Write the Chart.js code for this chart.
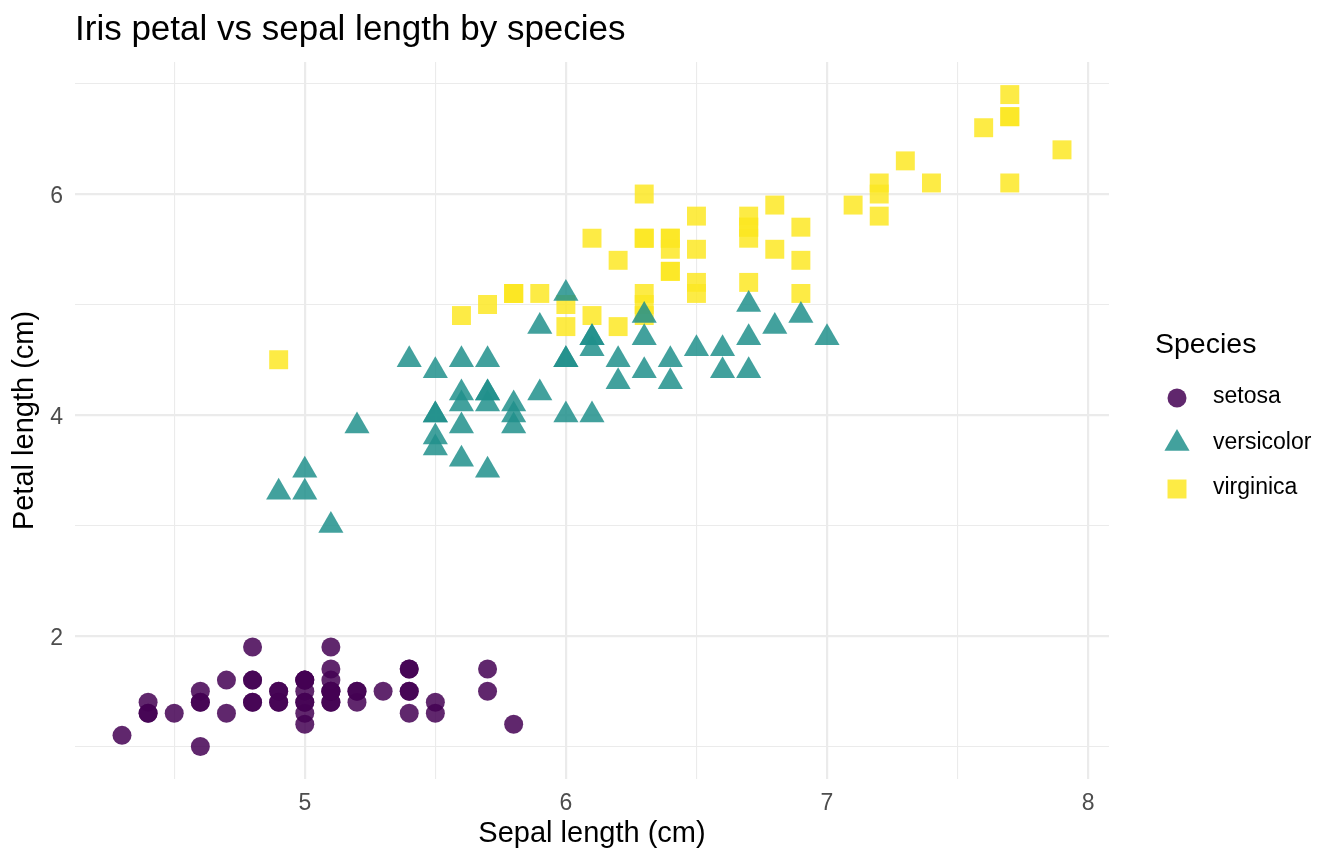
<!DOCTYPE html>
<html>
<head>
<meta charset="utf-8">
<script src="https://cdn.jsdelivr.net/npm/chart.js@4/dist/chart.umd.min.js"></script>
<style>
  html, body { margin: 0; padding: 0; background: #fff; }
  #wrap { width: 1344px; height: 864px; }
</style>
</head>
<body>
<div id="wrap"><canvas id="chart" width="1344" height="864"></canvas></div>
<script>
// DATA (iris)
const species = ["setosa", "versicolor", "virginica"];

const setosaSepal = [5.1,4.9,4.7,4.6,5.0,5.4,4.6,5.0,4.4,4.9,5.4,4.8,4.8,4.3,5.8,5.7,5.4,5.1,5.7,5.1,5.4,5.1,4.6,5.1,4.8,5.0,5.0,5.2,5.2,4.7,4.8,5.4,5.2,5.5,4.9,5.0,5.5,4.9,4.4,5.1,5.0,4.5,4.4,5.0,5.1,4.8,5.1,4.6,5.3,5.0];
const setosaPetal = [1.4,1.4,1.3,1.5,1.4,1.7,1.4,1.5,1.4,1.5,1.5,1.6,1.4,1.1,1.2,1.5,1.3,1.4,1.7,1.5,1.7,1.5,1.0,1.7,1.9,1.6,1.6,1.5,1.4,1.6,1.6,1.5,1.5,1.4,1.5,1.2,1.3,1.4,1.3,1.5,1.3,1.3,1.3,1.6,1.9,1.4,1.6,1.4,1.5,1.4];

const versicolorSepal = [7.0,6.4,6.9,5.5,6.5,5.7,6.3,4.9,6.6,5.2,5.0,5.9,6.0,6.1,5.6,6.7,5.6,5.8,6.2,5.6,5.9,6.1,6.3,6.1,6.4,6.6,6.8,6.7,6.0,5.7,5.5,5.5,5.8,6.0,5.4,6.0,6.7,6.3,5.6,5.5,5.5,6.1,5.8,5.0,5.6,5.7,5.7,6.2,5.1,5.7];
const versicolorPetal = [4.7,4.5,4.9,4.0,4.6,4.5,4.7,3.3,4.6,3.9,3.5,4.2,4.0,4.7,3.6,4.4,4.5,4.1,4.5,3.9,4.8,4.0,4.9,4.7,4.3,4.4,4.8,5.0,4.5,3.5,3.8,3.7,3.9,5.1,4.5,4.5,4.7,4.4,4.1,4.0,4.4,4.6,4.0,3.3,4.2,4.2,4.2,4.3,3.0,4.1];

const virginicaSepal = [6.3,5.8,7.1,6.3,6.5,7.6,4.9,7.3,6.7,7.2,6.5,6.4,6.8,5.7,5.8,6.4,6.5,7.7,7.7,6.0,6.9,5.6,7.7,6.3,6.7,7.2,6.2,6.1,6.4,7.2,7.4,7.9,6.4,6.3,6.1,7.7,6.3,6.4,6.0,6.9,6.7,6.9,5.8,6.8,6.7,6.7,6.3,6.5,6.2,5.9];
const virginicaPetal = [6.0,5.1,5.9,5.6,5.8,6.6,4.5,6.3,5.8,6.1,5.1,5.3,5.5,5.0,5.1,5.3,5.5,6.7,6.9,5.0,5.7,4.9,6.7,4.9,5.7,6.0,4.8,4.9,5.6,5.8,6.1,6.4,5.6,5.1,5.6,6.1,5.6,5.5,4.8,5.4,5.6,5.1,5.1,5.9,5.7,5.2,5.0,5.2,5.4,5.1];

const xTicks = [4.5, 5, 5.5, 6, 6.5, 7, 7.5, 8];
const xLabels = ["", "5", "", "6", "", "7", "", "8"];
const yTicks = [1, 2, 3, 4, 5, 6, 7];
const yLabels = ["", "2", "", "4", "", "6", ""];

const colors = ["rgba(68,1,84,0.85)", "rgba(33,144,140,0.85)", "rgba(253,231,37,0.85)"];
const shapes = ["circle", "triangle", "rect"];
const radii = [9.5, 14.5, 13.4];

const pairs = (xs, ys) => xs.map((x, i) => ({ x: x, y: ys[i] }));
const seriesData = [
  pairs(setosaSepal, setosaPetal),
  pairs(versicolorSepal, versicolorPetal),
  pairs(virginicaSepal, virginicaPetal)
];

const FONT = "'Liberation Sans', Arial, sans-serif";
const isMajor = (v, major) => major.indexOf(v) >= 0;

// legend drawn on the right, ggplot style
const sideLegend = {
  id: "sideLegend",
  afterDraw(chart) {
    const ctx = chart.ctx;
    ctx.save();
    ctx.fillStyle = "#000";
    ctx.textAlign = "left";
    ctx.textBaseline = "middle";
    ctx.font = "28.5px " + FONT;
    ctx.fillText("Species", 1155, 345);
    ctx.font = "23px " + FONT;
    species.forEach((s, i) => {
      const y = 398 + i * 45.5;
      ctx.fillStyle = colors[i];
      Chart.helpers.drawPoint(ctx, { pointStyle: shapes[i], radius: radii[i], rotation: 0, borderWidth: 0 }, 1177, y);
      ctx.fillStyle = "#000";
      ctx.fillText(s, 1213, y - 1);
    });
    ctx.restore();
  }
};

new Chart(document.getElementById("chart"), {
  type: "scatter",
  data: {
    datasets: species.map((s, i) => ({
      label: s,
      data: seriesData[i],
      backgroundColor: colors[i],
      pointStyle: shapes[i],
      pointRadius: radii[i],
      pointBorderWidth: 0,
      borderWidth: 0
    }))
  },
  options: {
    responsive: false,
    animation: false,
    events: [],
    layout: { padding: { left: 0, right: 235, top: 0, bottom: 0 } },
    plugins: {
      legend: { display: false },
      tooltip: { enabled: false },
      title: {
        display: true,
        text: "Iris petal vs sepal length by species",
        align: "start",
        fullSize: false,
        color: "#000",
        font: { family: FONT, size: 35, weight: "normal", lineHeight: 1.2 },
        padding: { top: 9, bottom: 11 }
      }
    },
    scales: {
      x: {
        type: "linear",
        min: 4.12,
        max: 8.08,
        border: { display: false },
        grid: {
          drawTicks: false,
          color: "#ebebeb",
          lineWidth: c => isMajor(c.tick.value, [5, 6, 7, 8]) ? 2.2 : 1.1
        },
        afterBuildTicks: scale => { scale.ticks = xTicks.map(v => ({ value: v })); },
        afterFit: scale => { scale.height = 85; },
        ticks: {
          autoSkip: false,
          maxRotation: 0,
          padding: 11,
          color: "#4d4d4d",
          font: { family: FONT, size: 23 },
          callback: (v, i) => xLabels[i]
        },
        title: {
          display: true,
          text: "Sepal length (cm)",
          color: "#000",
          font: { family: FONT, size: 29, lineHeight: 1.2 },
          padding: { top: 0, bottom: 13 }
        }
      },
      y: {
        type: "linear",
        min: 0.705,
        max: 7.195,
        border: { display: false },
        grid: {
          drawTicks: false,
          color: "#ebebeb",
          lineWidth: c => isMajor(c.tick.value, [2, 4, 6]) ? 2.2 : 1.1
        },
        afterBuildTicks: scale => { scale.ticks = yTicks.map(v => ({ value: v })); },
        afterFit: scale => { scale.width = 75; },
        ticks: {
          autoSkip: false,
          padding: 12,
          labelOffset: 3,
          color: "#4d4d4d",
          font: { family: FONT, size: 23 },
          callback: (v, i) => yLabels[i]
        },
        title: {
          display: true,
          text: "Petal length (cm)",
          color: "#000",
          font: { family: FONT, size: 29, lineHeight: 1.2 },
          padding: { top: 8, bottom: 0 }
        }
      }
    }
  },
  plugins: [sideLegend]
});
</script>
</body>
</html>
